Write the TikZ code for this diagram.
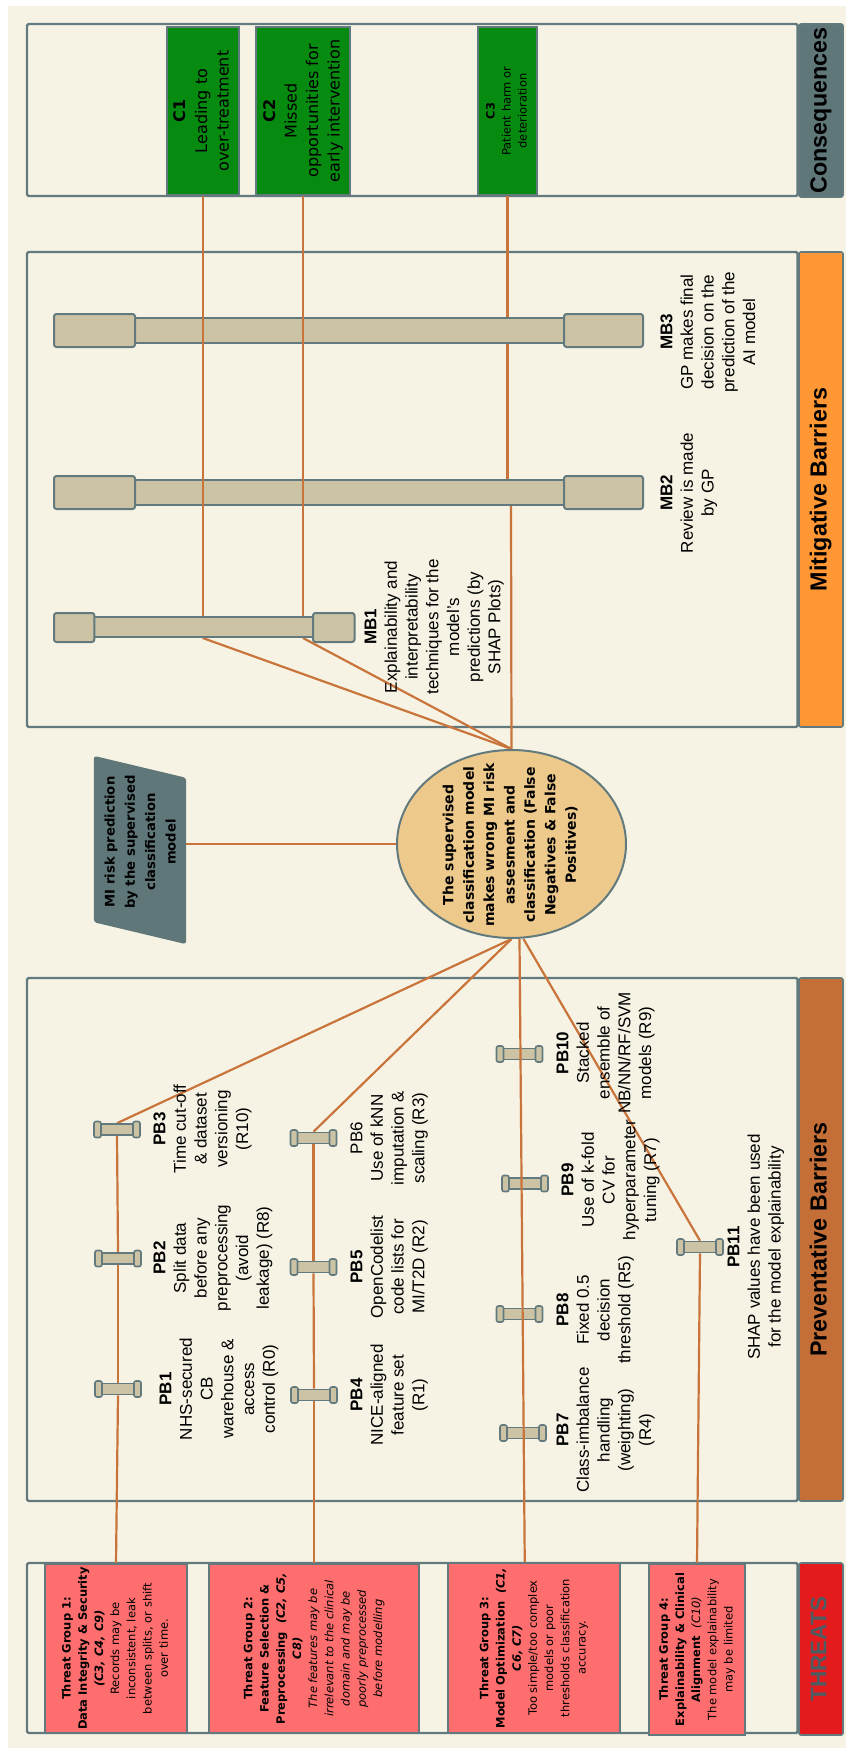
\documentclass[tikz,border=0pt]{standalone}
\usepackage{fontspec}
\setmainfont{Liberation Sans}
\newfontfamily\dvs{DejaVu Sans}
\usepackage{graphicx}
\usetikzlibrary{calc,shapes.geometric}
\pgfdeclarelayer{back}
\pgfdeclarelayer{mid}
\pgfsetlayers{back,mid,main}

\definecolor{bgc}{HTML}{F6F3E4}
\definecolor{framec}{HTML}{627A7E}
\definecolor{threatc}{HTML}{FF6E6E}
\definecolor{threatlab}{HTML}{E41A1C}
\definecolor{threatsc}{HTML}{4E5D64}
\definecolor{consc}{HTML}{078A10}
\definecolor{conslab}{HTML}{5F7779}
\definecolor{mitlab}{HTML}{FF9834}
\definecolor{prevlab}{HTML}{C46F37}
\definecolor{barc}{HTML}{CCC3A5}
\definecolor{ellc}{HTML}{EDC98B}
\definecolor{mic}{HTML}{5F7779}
\definecolor{linkc}{HTML}{C8743A}

\newcommand{\rt}[1]{\rotatebox{90}{\begin{tabular}{@{}c@{}}#1\end{tabular}}}
\newcommand{\pipe}[3]{%
  \node[pbody] (#1) at (#2,#3) {};
  \node[pcap] (#1l) at ($(#1.center)+(-19.5,0)$) {};
  \node[pcap] (#1r) at ($(#1.center)+(19.5,0)$) {};
}

\begin{document}
\begin{tikzpicture}[x=1pt,y=-1pt,
  frame/.style={draw=framec, line width=2.4pt, fill=bgc, rectangle, rounded corners=1.5pt, inner sep=0pt, minimum width=770.6pt},
  lab/.style={draw=framec, line width=1.6pt, rectangle, rounded corners=2pt, inner sep=0pt, minimum width=44pt, font=\bfseries\fontsize{23.3}{28}\selectfont},
  tbox/.style={draw=framec, line width=2pt, fill=threatc, inner sep=0pt, font=\dvs\fontsize{11.5}{16.2}\selectfont},
  cbox/.style={draw=framec, line width=2pt, fill=consc, inner sep=0pt, minimum height=168pt, font=\dvs\fontsize{16}{21.5}\selectfont},
  bar/.style={draw=framec, line width=2pt, fill=barc, inner sep=0pt},
  capb/.style={bar, rounded corners=2.5pt},
  pbody/.style={draw=framec, line width=1.6pt, fill=barc, inner sep=0pt, minimum width=40pt, minimum height=11pt},
  pcap/.style={pbody, rounded corners=2pt, minimum width=7pt, minimum height=16pt},
  ptext/.style={anchor=west, inner sep=0pt, font=\fontsize{17}{20.7}\selectfont},
  link/.style={draw=linkc, line width=2.2pt},
  evt/.style={ellipse, draw=framec, line width=2pt, fill=ellc, minimum width=229pt, minimum height=188pt, inner sep=0pt}
]
\useasboundingbox (0,0) rectangle (846,1748);

\begin{pgfonlayer}{back}
  \fill[bgc] (8,6) rectangle (846,1748);
  % frames
  \node[frame, minimum height=172pt] (Fc) at (412.3,110) {};
  \node[lab, fill=conslab, minimum height=173pt] (Lc) at (821,110.5) {\rt{Consequences}};
  \node[frame, minimum height=475pt] (Fm) at (412.3,489.5) {};
  \node[lab, fill=mitlab, minimum height=475pt] (Lm) at (821,489.5) {\rt{Mitigative Barriers}};
  \node[frame, minimum height=523pt] (Fp) at (412.3,1239.5) {};
  \node[lab, fill=prevlab, minimum height=523pt] (Lp) at (821,1239.5) {\rt{Preventative Barriers}};
  \node[frame, minimum height=170pt] (Ft) at (412.3,1648) {};
  \node[lab, fill=threatlab, minimum height=172pt, text=threatsc, font=\bfseries\fontsize{22.5}{27}\selectfont] (Lt) at (821,1649) {\rt{THREATS}};
\end{pgfonlayer}

% consequences
\node[cbox, minimum width=71.5pt] (C1) at (202.75,111) {\rt{\textbf{C1}\\Leading to\\over-treatment}};
\node[cbox, minimum width=94pt] (C2) at (303,111) {\rt{\textbf{C2}\\Missed\\opportunities for\\early intervention}};
\node[cbox, minimum width=59pt, font=\dvs\fontsize{11.5}{16}\selectfont] (C3) at (507.5,111) {\rt{\textbf{C3}\\Patient harm or\\deterioration}};

% threats
\node[tbox, minimum width=142pt, minimum height=169pt] (T1) at (116,1648.5) {\rt{\textbf{Threat Group 1:}\\\textbf{Data Integrity \& Security}\\\textbf{\textit{(C3, C4, C9)}}\\Records may be\\inconsistent, leak\\between splits, or shift\\over time.}};
\node[tbox, minimum width=210pt, minimum height=169pt] (T2) at (314,1648.5) {\rt{\textbf{Threat Group 2:}\\\textbf{Feature Selection \&}\\\textbf{Preprocessing\ \ \textit{(C2, C5,}}\\\textbf{\textit{C8)}}\\\textit{The features may be}\\\textit{irrelevant to the clinical}\\\textit{domain and may be}\\\textit{poorly preprocessed}\\\textit{before modelling}}};
\node[tbox, minimum width=171.5pt, minimum height=170pt] (T3) at (533.75,1648) {\rt{\textbf{Threat Group 3:}\\\textbf{Model Optimization\ \ \textit{(C1,}}\\\textbf{\textit{C6, C7)}}\\Too simple/too complex\\models or poor\\thresholds classification\\accuracy.}};
\node[tbox, minimum width=96pt, minimum height=171pt] (T4) at (697,1649.5) {\rt{\textbf{Threat Group 4:}\\\textbf{Explainability \& Clinical}\\\textbf{Alignment}\ \ \textit{(C10)}\\The model explainability\\may be limited}};

% mitigative barriers
\node[bar, minimum width=429pt, minimum height=25pt] (MB3) at (349.5,330.5) {};
\node[capb, minimum width=81pt, minimum height=33pt] (MB3l) at (94.5,330.5) {};
\node[capb, minimum width=79pt, minimum height=33pt] (MB3r) at (603.5,330.5) {};
\node[bar, minimum width=429pt, minimum height=25pt] (MB2) at (349.5,492.5) {};
\node[capb, minimum width=81pt, minimum height=33pt] (MB2l) at (94.5,492.5) {};
\node[capb, minimum width=79pt, minimum height=33pt] (MB2r) at (603.5,492.5) {};
\node[bar, minimum width=219pt, minimum height=20pt] (MB1) at (203.5,627) {};
\node[capb, minimum width=40.4pt, minimum height=29pt] (MB1l) at (74.2,627.5) {};
\node[capb, minimum width=41.5pt, minimum height=29pt] (MB1r) at (333.75,627.5) {};

\node[ptext] (MB3t) at (657.6,332) {\rt{\textbf{MB3}\\GP makes final\\decision on the\\prediction of the\\AI model}};
\node[ptext] (MB2t) at (657.6,493) {\rt{\textbf{MB2}\\Review is made\\by GP}};
\node[ptext] (MB1t) at (361.6,627) {\rt{\textbf{MB1}\\Explainability and\\interpretability\\techniques for the\\model's\\predictions (by\\SHAP Plots)}};

% top event
\node[evt] (E) at (511.5,844) {};
\node[inner sep=0pt, font=\dvs\bfseries\fontsize{14}{20.4}\selectfont] (Et) at (510.5,845) {\rt{The supervised\\classification model\\makes wrong MI risk\\assesment and\\classification (False\\Negatives \& False\\Positives)}};

% hazard
\node[minimum width=92pt, minimum height=188pt, inner sep=0pt] (MI) at (140,850) {};
\node[inner sep=0pt, font=\dvs\bfseries\fontsize{13.2}{20.3}\selectfont] (MIt) at (141,842) {\rt{MI risk prediction\\by the supervised\\classification\\model}};
\begin{pgfonlayer}{back}
  \fill[mic, rounded corners=3pt] (MI.north west) -- ($(MI.north east)+(0,22)$) -- (MI.south east) -- ($(MI.south west)+(0,-22)$) -- cycle;
\end{pgfonlayer}

% preventative barriers
\pipe{PB1}{118}{1389}
\pipe{PB2}{118}{1258.5}
\pipe{PB3}{117}{1129.5}
\pipe{PB4}{314}{1395}
\pipe{PB5}{313.5}{1267}
\pipe{PB6}{313.5}{1138}
\pipe{PB7}{523}{1433}
\pipe{PB8}{519.5}{1314}
\pipe{PB9}{525}{1183.5}
\pipe{PB10}{519.5}{1054}
\pipe{PB11}{700}{1247}

\node[ptext] (PB1t) at (156.6,1389) {\rt{\textbf{PB1}\\NHS-secured\\CB\\warehouse \&\\access\\control (R0)}};
\node[ptext] (PB2t) at (150.6,1258) {\rt{\textbf{PB2}\\Split data\\before any\\preprocessing\\(avoid\\leakage) (R8)}};
\node[ptext] (PB3t) at (150.6,1129) {\rt{\textbf{PB3}\\Time cut-off\\\& dataset\\versioning\\(R10)}};
\node[ptext] (PB4t) at (347.6,1395) {\rt{\textbf{PB4}\\NICE-aligned\\feature set\\(R1)}};
\node[ptext] (PB5t) at (347.6,1267) {\rt{\textbf{PB5}\\OpenCodelist\\code lists for\\MI/T2D (R2)}};
\node[ptext] (PB6t) at (347.6,1138) {\rt{PB6\\Use of kNN\\imputation \&\\scaling (R3)}};
\node[ptext] (PB7t) at (553.6,1430) {\rt{\textbf{PB7}\\Class-imbalance\\handling\\(weighting)\\(R4)}};
\node[ptext] (PB8t) at (553.6,1310) {\rt{\textbf{PB8}\\Fixed 0.5\\decision\\threshold (R5)}};
\node[ptext] (PB9t) at (558.6,1180) {\rt{\textbf{PB9}\\Use of k-fold\\CV for\\hyperparameter\\tuning (R7)}};
\node[ptext] (PB10t) at (553.6,1053) {\rt{\textbf{PB10}\\Stacked\\ensemble of\\NB/NN/RF/SVM\\models (R9)}};
\node[ptext] (PB11t) at (724.6,1247) {\rt{\textbf{PB11}\\SHAP values have been used\\for the model explainability}};

% links under barriers
\begin{pgfonlayer}{mid}
  \draw[link] (C3.south) -- (C3.south |- MB2.north);
  \draw[link] ([xshift=3.5pt]C3.south |- MB2.south) -- (E.north);
  \draw[link] (C1.south |- MB1.south) -- (E.north);
  \draw[link] (C2.south |- MB1.south) -- (E.north);
  \draw[link] (MI.east |- E.west) -- (E.west);
  \draw[link] (E.south) -- (PB3.north);
  \draw[link] (PB3.south) -- (PB2.north);
  \draw[link] (PB2.south) -- (PB1.north);
  \draw[link] (PB1.south) -- (T1.north);
  \draw[link] (E.south) -- (PB6.north);
  \draw[link] (PB6.south) -- (PB5.north);
  \draw[link] (PB5.south) -- (PB4.north);
  \draw[link] (PB4.south) -- (T2.north);
  \draw[link] ([xshift=12pt]E.south) -- (PB11.north);
  \draw[link] (PB11.south) -- (T4.north);
\end{pgfonlayer}

% links over barriers
\draw[link] (C1.south) -- (C1.south |- MB1.north);
\draw[link] (C2.south) -- (C2.south |- MB1.north);
\draw[link] ([xshift=8pt]E.south) -- ([xshift=-9pt]T3.north);
\end{tikzpicture}
\end{document}
